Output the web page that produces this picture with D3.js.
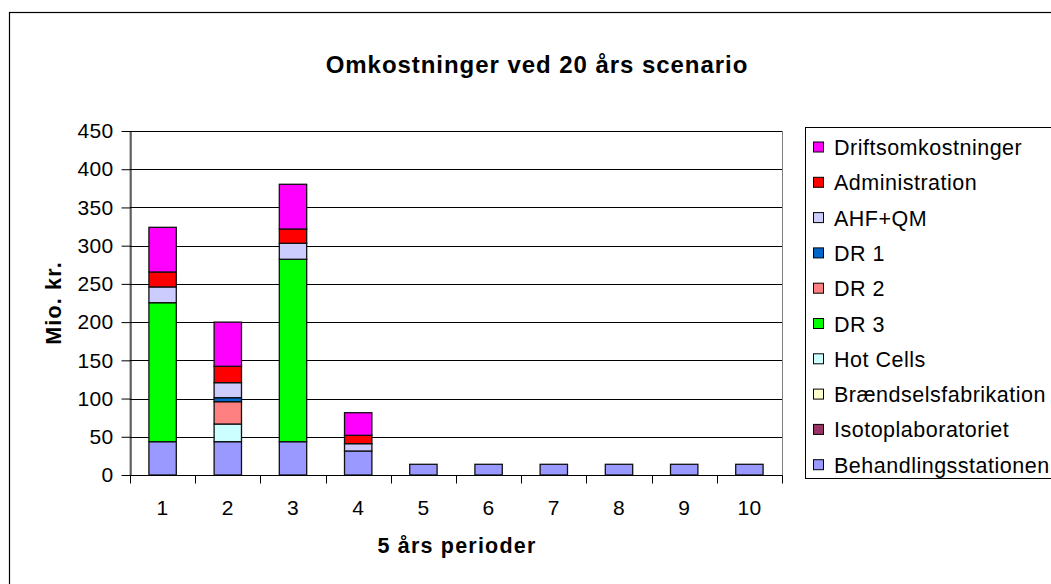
<!DOCTYPE html>
<html><head><meta charset="utf-8">
<script src="https://cdn.jsdelivr.net/npm/d3@7"></script>
<style>
body{margin:0;background:#fff;}
svg text{font-family:"Liberation Sans",Arial,sans-serif;fill:#000;}
</style></head>
<body>
<svg id="c" width="1051" height="584"></svg>
<script>
const categories = ["1","2","3","4","5","6","7","8","9","10"];
const yTicks = [0,50,100,150,200,250,300,350,400,450];
// series, bottom to top of stack
const seriesNames = ["Behandlingsstationen","Isotoplaboratoriet","Brændselsfabrikation","Hot Cells","DR 3","DR 2","DR 1","AHF+QM","Administration","Driftsomkostninger"];
const seriesColors = ["#9999FF","#993366","#FFFFCC","#CCFFFF","#00FF00","#FF8080","#0066CC","#CCCCFF","#FF0000","#FF00FF"];
const behandlingsstationen = [43.6,43.6,43.6,31.4,14,14,14,14,14,14];
const isotoplaboratoriet   = [0,0,0,0,0,0,0,0,0,0];
const braendselsfabrikation= [0,0,0,0,0,0,0,0,0,0];
const hotCells             = [0,23.1,0,0,0,0,0,0,0,0];
const dr3                  = [181.8,0,238.6,0,0,0,0,0,0,0];
const dr2                  = [0,29.2,0,0,0,0,0,0,0,0];
const dr1                  = [0,5.3,0,0,0,0,0,0,0,0];
const ahfQm                = [20.6,19.6,20.9,9.6,0,0,0,0,0,0];
const administration       = [19.6,21.4,18.7,10.9,0,0,0,0,0,0];
const driftsomkostninger   = [58.4,57.8,58.5,29.6,0,0,0,0,0,0];
const seriesValues = [behandlingsstationen,isotoplaboratoriet,braendselsfabrikation,hotCells,dr3,dr2,dr1,ahfQm,administration,driftsomkostninger];

const svg = d3.select("#c");
// outer chart border (cut off right/bottom)
svg.append("rect").attr("x",9.5).attr("y",12.5).attr("width",1100).attr("height",700)
  .attr("fill","#fff").attr("stroke","#000").attr("stroke-width",1.2);

const L=130,R=782,T=131,B=475;
const x = d3.scaleBand().domain(categories).range([L,R]).paddingInner(0.58).paddingOuter(0.29);
const y = d3.scaleLinear().domain([0,450]).range([B,T]);

// plot area border
svg.append("rect").attr("x",L).attr("y",T+0.5).attr("width",R-L+0.5).attr("height",B-T)
  .attr("fill","#fff").attr("stroke","#808080").attr("stroke-width",1);

// gridlines
svg.append("g").selectAll("line").data(yTicks.filter(d=>d>0)).join("line")
  .attr("x1",L).attr("x2",R).attr("y1",d=>Math.round(y(d))+0.5).attr("y2",d=>Math.round(y(d))+0.5)
  .attr("stroke","#000").attr("stroke-width",1);

// stacked bars
const table = categories.map((c,i)=>{const o={cat:c}; seriesNames.forEach((s,j)=>o[s]=seriesValues[j][i]); return o;});
const stacked = d3.stack().keys(seriesNames)(table);
const g = svg.append("g");
stacked.forEach((layer,j)=>{
  g.append("g").attr("fill",seriesColors[j]).selectAll("rect")
   .data(layer.filter(d=>d[1]-d[0]>0)).join("rect")
   .attr("x",d=>x(d.data.cat)).attr("width",x.bandwidth())
   .attr("y",d=>y(d[1])).attr("height",d=>y(d[0])-y(d[1]))
   .attr("stroke","#111").attr("stroke-width",1.3);
});

// y axis
const yAxis = d3.axisLeft(y).tickValues(yTicks).tickSize(9).tickPadding(8).tickSizeOuter(0);
const ya = svg.append("g").attr("transform",`translate(${L+0.5},0)`).call(yAxis);
ya.select(".domain").attr("stroke","#000");
ya.selectAll(".tick line").attr("stroke","#000");
ya.selectAll("text").attr("font-size",21).attr("letter-spacing",0.3)
  .attr("font-family","Liberation Sans, Arial, sans-serif").attr("fill","#000");

// x axis
const xa = svg.append("g").attr("transform",`translate(0,${B+0.5})`);
xa.append("line").attr("x1",L).attr("x2",R+0.5).attr("y1",0).attr("y2",0).attr("stroke","#000");
const step = x.step();
xa.selectAll("line.t").data(d3.range(categories.length+1)).join("line").attr("class","t")
  .attr("x1",i=>Math.round(L+i*step)+0.5).attr("x2",i=>Math.round(L+i*step)+0.5)
  .attr("y1",0).attr("y2",8).attr("stroke","#000");
xa.selectAll("text").data(categories).join("text")
  .attr("x",d=>x(d)+x.bandwidth()/2).attr("y",39).attr("text-anchor","middle")
  .attr("font-size",21).attr("letter-spacing",0.3).text(d=>d);

// titles
svg.append("text").attr("x",537).attr("y",73).attr("text-anchor","middle")
  .attr("font-size",24).attr("letter-spacing",0.95).attr("font-weight","bold").text("Omkostninger ved 20 års scenario");
svg.append("text").attr("x",457).attr("y",553).attr("text-anchor","middle")
  .attr("font-size",21.5).attr("letter-spacing",1.2).attr("font-weight","bold").text("5 års perioder");
svg.append("text").attr("transform",`translate(61,${(T+B)/2}) rotate(-90)`).attr("text-anchor","middle")
  .attr("font-size",21.5).attr("letter-spacing",1.2).attr("font-weight","bold").text("Mio. kr.");

// legend
svg.append("rect").attr("x",805.5).attr("y",127.5).attr("width",300).attr("height",351)
  .attr("fill","#fff").attr("stroke","#000").attr("stroke-width",1);
const legendOrder = seriesNames.map((n,i)=>i).reverse();
const lg = svg.append("g").selectAll("g").data(legendOrder).join("g")
  .attr("transform",(d,k)=>`translate(813,${147.5+k*35.3})`);
lg.append("rect").attr("x",0.5).attr("y",-5.5).attr("width",10).attr("height",10)
  .attr("fill",d=>seriesColors[d]).attr("stroke","#000").attr("stroke-width",1);
lg.append("text").attr("x",21).attr("y",7.5).attr("font-size",21.5).attr("letter-spacing",0.5).text(d=>seriesNames[d]);
</script>
</body></html>
